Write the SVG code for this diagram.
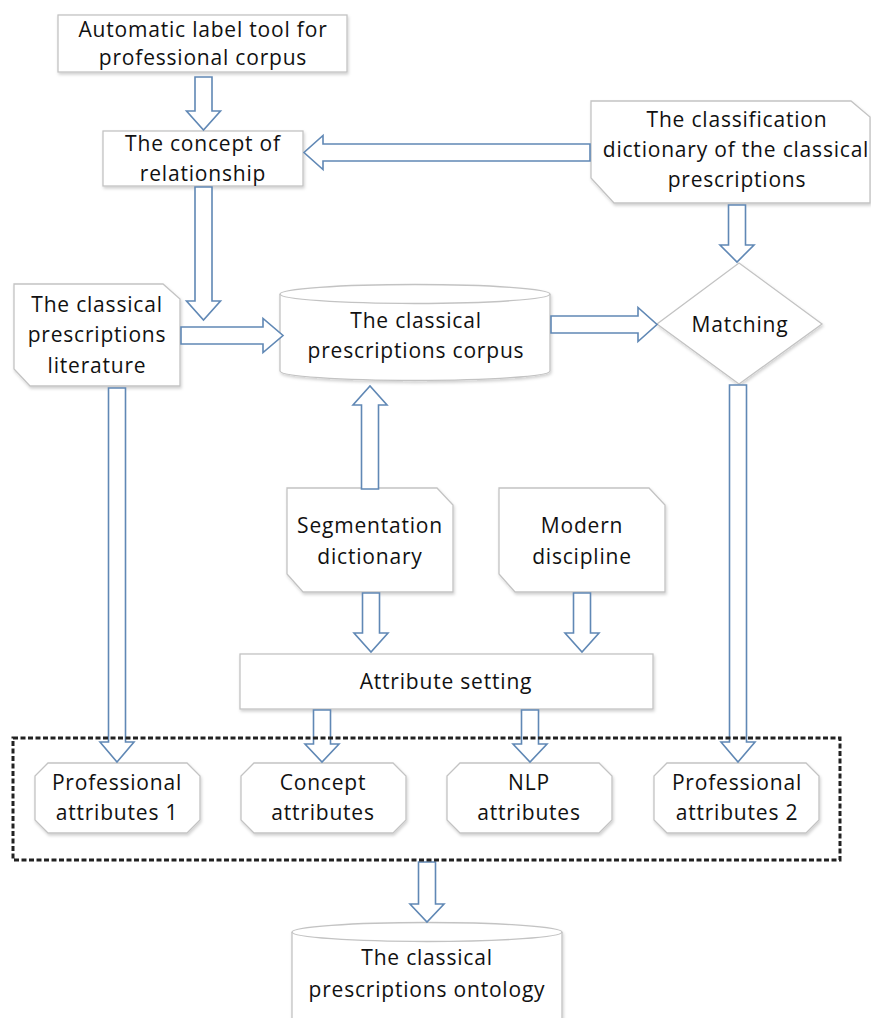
<svg xmlns="http://www.w3.org/2000/svg" width="871" height="1018" viewBox="0 0 871 1018">
<defs>
<filter id="sh" x="-10%" y="-10%" width="130%" height="140%">
<feDropShadow dx="1" dy="2" stdDeviation="1.5" flood-color="#000" flood-opacity="0.18"/>
</filter>
</defs>
<style>
.n{fill:#fff;stroke:#c3c3c3;stroke-width:1.3;filter:url(#sh)}
.a{fill:#fff;stroke:#6088b5;stroke-width:1.6;stroke-linejoin:miter}
.t{font-family:"Open Sans","Liberation Sans",sans-serif;font-size:21px;fill:#111;text-anchor:middle;letter-spacing:0.8px}
.d{fill:none;stroke:#222;stroke-width:3;stroke-dasharray:5 2.5}
</style>
<rect width="871" height="1018" fill="#fff"/>
<g id="n-label-tool">
<rect class="n" x="58" y="15" width="289" height="57"/>
<text class="t" x="203" y="37">Automatic label tool for</text>
<text class="t" x="203" y="65">professional corpus</text>
</g>
<g id="n-concept">
<rect class="n" x="103" y="131" width="200" height="55"/>
<text class="t" x="203" y="151">The concept of</text>
<text class="t" x="203" y="181">relationship</text>
</g>
<g id="n-dictionary">
<path class="n" d="M591,101 L851,101 L870,117 L870,203 L614,203 L591,178 Z"/>
<text class="t" x="737" y="127">The classification</text>
<text class="t" x="736" y="157" letter-spacing="0.6">dictionary of the classical</text>
<text class="t" x="737" y="187">prescriptions</text>
</g>
<g id="n-literature">
<path class="n" d="M14,284 L163,284 L180,299 L180,386 L30,386 L14,369 Z"/>
<text class="t" x="97" y="312">The classical</text>
<text class="t" x="97" y="342">prescriptions</text>
<text class="t" x="97" y="373">literature</text>
</g>
<g id="n-corpus">
<path class="n" d="M280,294 A135,9.5 0 0 1 550,294 L550,371 A135,9.5 0 0 1 280,371 Z"/>
<path d="M280,294 A135,9.5 0 0 0 550,294" fill="none" stroke="#c3c3c3" stroke-width="1.3"/>
<text class="t" x="416" y="328">The classical</text>
<text class="t" x="416" y="358">prescriptions corpus</text>
</g>
<g id="n-matching">
<path class="n" d="M739,263 L822,324 L739,384 L657,324 Z"/>
<text class="t" x="740" y="332">Matching</text>
</g>
<g id="n-segmentation">
<path class="n" d="M287,488 L437,488 L453,505 L453,592 L303,592 L287,574 Z"/>
<text class="t" x="370" y="533">Segmentation</text>
<text class="t" x="370" y="564">dictionary</text>
</g>
<g id="n-modern">
<path class="n" d="M499,488 L649,488 L665,505 L665,592 L515,592 L499,574 Z"/>
<text class="t" x="582" y="533">Modern</text>
<text class="t" x="582" y="564">discipline</text>
</g>
<g id="n-attribute-setting">
<rect class="n" x="240" y="654" width="413" height="55"/>
<text class="t" x="446" y="689">Attribute setting</text>
</g>
<g id="n-prof1">
<path class="n" d="M48,763 L187,763 L200,776 L200,820 L187,833 L48,833 L35,820 L35,776 Z"/>
<text class="t" x="117" y="790">Professional</text>
<text class="t" x="117" y="820">attributes 1</text>
</g>
<g id="n-concept-attr">
<path class="n" d="M254,763 L393,763 L406,776 L406,820 L393,833 L254,833 L241,820 L241,776 Z"/>
<text class="t" x="323" y="790">Concept</text>
<text class="t" x="323" y="820">attributes</text>
</g>
<g id="n-nlp-attr">
<path class="n" d="M460,763 L599,763 L612,776 L612,820 L599,833 L460,833 L447,820 L447,776 Z"/>
<text class="t" x="529" y="790">NLP</text>
<text class="t" x="529" y="820">attributes</text>
</g>
<g id="n-prof2">
<path class="n" d="M667,763 L806,763 L819,776 L819,820 L806,833 L667,833 L654,820 L654,776 Z"/>
<text class="t" x="737" y="790">Professional</text>
<text class="t" x="737" y="820">attributes 2</text>
</g>
<g id="n-ontology">
<path class="n" d="M292,932 A135,9.5 0 0 1 562,932 L562,1030 L292,1030 Z"/>
<path d="M292,932 A135,9.5 0 0 0 562,932" fill="none" stroke="#c3c3c3" stroke-width="1.3"/>
<text class="t" x="427" y="965">The classical</text>
<text class="t" x="427" y="997">prescriptions ontology</text>
</g>
<g id="connectors">
<path class="a" d="M195,77 L212,77 L212,111 L220.5,111 L203.5,130 L186.5,111 L195,111 Z"/>
<path class="a" d="M195,187 L212,187 L212,301 L220.5,301 L203.5,320 L186.5,301 L195,301 Z"/>
<path class="a" d="M590,144 L323,144 L323,135.5 L304,152.5 L323,169.5 L323,161 L590,161 Z"/>
<path class="a" d="M728.5,205 L745.5,205 L745.5,245 L754,245 L737,262 L720,245 L728.5,245 Z"/>
<path class="a" d="M181,327 L263,327 L263,318.5 L283,335.5 L263,352.5 L263,344 L181,344 Z"/>
<path class="a" d="M551,316 L638,316 L638,307.5 L657,324.5 L638,341.5 L638,333 L551,333 Z"/>
<path class="a" d="M361.5,489 L378.5,489 L378.5,405 L387,405 L370,386 L353,405 L361.5,405 Z"/>
<path class="a" d="M362.5,593 L379.5,593 L379.5,633 L388,633 L371,652 L354,633 L362.5,633 Z"/>
<path class="a" d="M573.5,593 L590.5,593 L590.5,633 L599,633 L582,652 L565,633 L573.5,633 Z"/>
<path class="a" d="M108.5,388 L125.5,388 L125.5,742 L134,742 L117,762 L100,742 L108.5,742 Z"/>
<path class="a" d="M729.5,385 L746.5,385 L746.5,742 L755,742 L738,762 L721,742 L729.5,742 Z"/>
<path class="a" d="M313.5,710 L330.5,710 L330.5,744 L339,744 L322,762 L305,744 L313.5,744 Z"/>
<path class="a" d="M521.5,710 L538.5,710 L538.5,744 L547,744 L530,762 L513,744 L521.5,744 Z"/>
<path class="a" d="M418.5,862 L435.5,862 L435.5,904 L444,904 L427,922 L410,904 L418.5,904 Z"/>
</g>
<g id="attributes-group">
<rect class="d" x="13" y="738" width="827" height="122"/>
</g>
</svg>
